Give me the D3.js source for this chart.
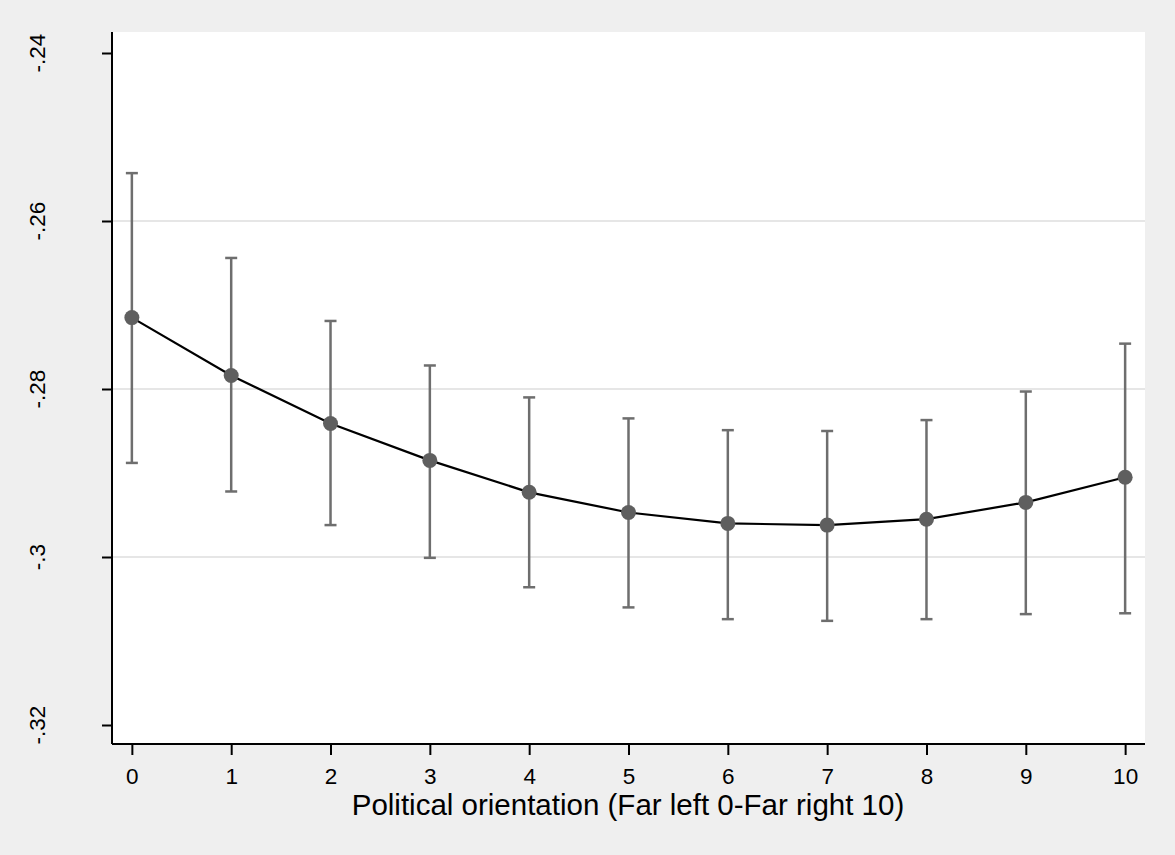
<!DOCTYPE html>
<html>
<head>
    <script src="https://cdn.jsdelivr.net/npm/d3@7"></script>
    <style>
        body { margin: 0; background: #efefef; }
        text { font-family: "Liberation Sans", Arial, sans-serif; }
    </style>
</head>
<body>
    <svg width="1175" height="855" id="mainsvg"></svg>
    <script>
        // political orientation 0..10, predicted value with 95% CI
        const orientation = [0, 1, 2, 3, 4, 5, 6, 7, 8, 9, 10];
        const estimate = [-.2715, -.2784, -.2841, -.2885, -.2923, -.2947, -.2960, -.2962, -.2955, -.2935, -.2905];
        const ciLow  = [-.2888, -.2922, -.2962, -.3001, -.3036, -.3060, -.3074, -.3076, -.3074, -.3068, -.3067];
        const ciHigh = [-.2543, -.2644, -.2719, -.2772, -.2810, -.2835, -.2849, -.2850, -.2837, -.2803, -.2746];
        const yTicks = [-.32, -.30, -.28, -.26, -.24];
        const yTickLabels = ['-.32', '-.3', '-.28', '-.26', '-.24'];
        const gridTicks = [-.30, -.28, -.26];
        const xTitle = 'Political orientation (Far left 0-Far right 10)';

        const svg = d3.select('svg');
        const width = +svg.attr('width');
        const height = +svg.attr('height');

        const plot = {left: 112, right: 1145, top: 32, bottom: 744};

        svg.append('rect').attr('width', width).attr('height', height).attr('fill', '#efefef');
        svg.append('rect')
            .attr('x', plot.left).attr('y', plot.top)
            .attr('width', plot.right - plot.left).attr('height', plot.bottom - plot.top)
            .attr('fill', '#ffffff');

        const x = d3.scaleLinear().domain([-0.2, 10.2]).range([plot.left, plot.right]);
        const y = d3.scaleLinear().domain([-.32, -.24]).range([725, 53]);

        // gridlines
        svg.append('g').selectAll('line').data(gridTicks).join('line')
            .attr('x1', plot.left).attr('x2', plot.right)
            .attr('y1', d => y(d)).attr('y2', d => y(d))
            .attr('stroke', '#e6e6e6').attr('stroke-width', 2);

        // error bars
        const capW = 6;
        const bars = svg.append('g').attr('stroke', '#6e6e6e').attr('stroke-width', 2.5);
        orientation.forEach((o, i) => {
            const cx = x(o);
            bars.append('line').attr('x1', cx).attr('x2', cx).attr('y1', y(ciLow[i])).attr('y2', y(ciHigh[i]));
            bars.append('line').attr('x1', cx - capW).attr('x2', cx + capW).attr('y1', y(ciLow[i])).attr('y2', y(ciLow[i]));
            bars.append('line').attr('x1', cx - capW).attr('x2', cx + capW).attr('y1', y(ciHigh[i])).attr('y2', y(ciHigh[i]));
        });

        // connecting line
        const line = d3.line().x((d, i) => x(orientation[i])).y(d => y(d));
        svg.append('path').datum(estimate)
            .attr('d', line)
            .attr('fill', 'none').attr('stroke', '#000').attr('stroke-width', 2.2);

        // markers
        svg.append('g').selectAll('circle').data(estimate).join('circle')
            .attr('cx', (d, i) => x(orientation[i]))
            .attr('cy', d => y(d))
            .attr('r', 7.5)
            .attr('fill', '#5f5f5f');

        // y axis
        const yAxis = svg.append('g')
            .attr('transform', `translate(${plot.left},0)`)
            .call(d3.axisLeft(y).tickValues(yTicks).tickSize(10).tickSizeOuter(0).tickFormat(''));
        yAxis.select('.domain').attr('d', `M0,${plot.top}V${plot.bottom}`).attr('stroke-width', 2);
        yAxis.selectAll('.tick line').attr('stroke-width', 2);

        svg.append('g').selectAll('text').data(yTicks).join('text')
            .attr('transform', d => `translate(45,${y(d)}) rotate(-90)`)
            .attr('text-anchor', 'middle')
            .style('font-size', '22.5px')
            .attr('fill', '#000')
            .text((d, i) => yTickLabels[i]);

        // x axis
        const xAxis = svg.append('g')
            .attr('transform', `translate(0,${plot.bottom})`)
            .call(d3.axisBottom(x).tickValues(orientation).tickSize(11).tickSizeOuter(0).tickPadding(13));
        xAxis.select('.domain').attr('d', `M${plot.left},0H${plot.right}`).attr('stroke-width', 2);
        xAxis.selectAll('.tick line').attr('stroke-width', 2);
        xAxis.selectAll('.tick text')
            .style('font-size', '22.5px')
            .attr('fill', '#000');

        svg.append('text')
            .attr('x', 628)
            .attr('y', 815)
            .attr('text-anchor', 'middle')
            .style('font-size', '29.5px')
            .attr('fill', '#000')
            .text(xTitle);
    </script>
</body>
</html>
